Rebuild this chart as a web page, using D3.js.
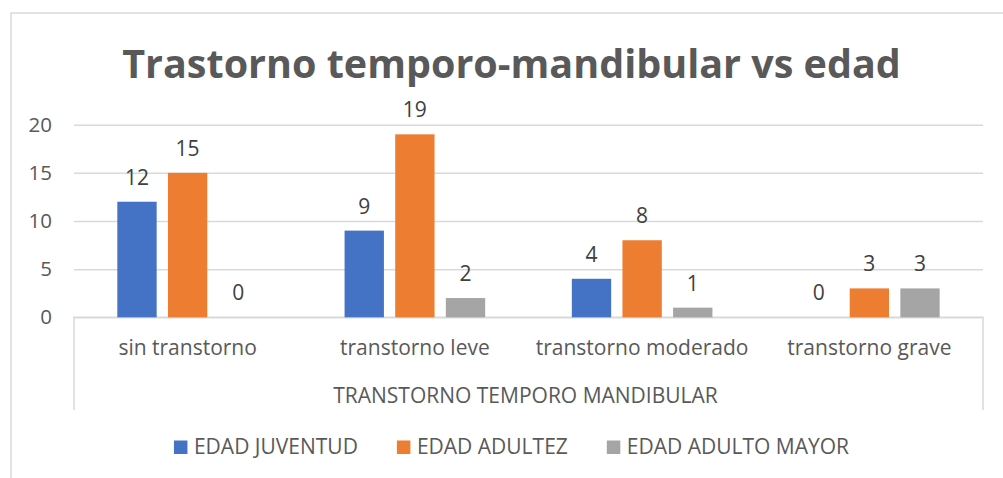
<!DOCTYPE html>
<html>
<head>
<meta charset="utf-8">
<script src="https://cdn.jsdelivr.net/npm/d3@7"></script>
<style>
  body { margin: 0; background: #fff; }
  svg text { font-family: "Open Sans", sans-serif; fill: #595959; }
</style>
</head>
<body>
<svg id="chart" width="1003" height="478"></svg>
<script>
// data
const categories = ['sin transtorno', 'transtorno leve', 'transtorno moderado', 'transtorno grave'];
const seriesNames = ['EDAD JUVENTUD', 'EDAD ADULTEZ', 'EDAD ADULTO MAYOR'];
const juventud = [12, 9, 4, 0];
const adultez = [15, 19, 8, 3];
const adultoMayor = [0, 2, 1, 3];
const yTicks = [0, 5, 10, 15, 20];
const colors = ['#4472C4', '#ED7D31', '#A5A5A5'];

const titleText = 'Trastorno temporo-mandibular vs edad';
const axisTitle = 'TRANSTORNO TEMPORO MANDIBULAR';

const values = [juventud, adultez, adultoMayor];

const svg = d3.select('#chart');

// plot area
const plotLeft = 74, plotRight = 983, plotTop = 124.7, plotBottom = 317.3;
const centerX = 511.5;

// outer chart border
svg.append('path')
  .attr('d', 'M11,1000 L11,13 L1003,13')
  .attr('fill', 'none')
  .attr('stroke', '#d9d9d9')
  .attr('stroke-width', 1.5);

// title
svg.append('text')
  .attr('x', centerX)
  .attr('y', 78)
  .attr('text-anchor', 'middle')
  .style('font-size', '39.5px')
  .style('font-weight', 'bold')
  .text(titleText);

// scales
var y = d3.scaleLinear().domain([0, 20]).range([plotBottom, plotTop]);
var x = d3.scaleBand().domain(categories).range([plotLeft, plotRight]);
var xs = d3.scaleBand().domain(d3.range(seriesNames.length))
  .range([-70.3, 70.3]).paddingInner(0.223);

// y axis + gridlines
var yAxis = svg.append('g')
  .attr('transform', `translate(${plotLeft},0)`)
  .call(d3.axisLeft(y).tickValues(yTicks).tickSize(-(plotRight - plotLeft)).tickPadding(22));
yAxis.select('.domain').remove();
yAxis.selectAll('line').attr('stroke', '#d9d9d9').attr('stroke-width', 1.5);
yAxis.selectAll('text').style('font-size', '20.5px').attr('fill', '#595959');

// category axis box
svg.append('path')
  .attr('d', `M${plotLeft},410 L${plotLeft},${plotBottom} L${plotRight},${plotBottom} L${plotRight},410`)
  .attr('fill', 'none')
  .attr('stroke', '#d9d9d9')
  .attr('stroke-width', 1.5);

var xAxis = svg.append('g')
  .attr('transform', `translate(0,${plotBottom})`)
  .call(d3.axisBottom(x).tickSize(0).tickPadding(23));
xAxis.select('.domain').remove();
xAxis.selectAll('text').style('font-size', '21px').attr('fill', '#595959');

svg.append('text')
  .attr('x', (plotLeft + plotRight) / 2 - 3)
  .attr('y', 402.5)
  .attr('text-anchor', 'middle')
  .style('font-size', '21px')
  .text(axisTitle);

// bars
var groups = svg.selectAll('.series')
  .data(values)
  .enter()
  .append('g')
  .attr('class', 'series')
  .attr('fill', (d, i) => colors[i]);

groups.selectAll('rect')
  .data((d, i) => d.map((v, j) => ({ v: v, s: i, c: categories[j] })))
  .enter()
  .append('rect')
  .attr('x', d => x(d.c) + x.bandwidth() / 2 + xs(d.s))
  .attr('y', d => y(d.v))
  .attr('width', xs.bandwidth())
  .attr('height', d => y(0) - y(d.v));

// data labels
groups.selectAll('text')
  .data((d, i) => d.map((v, j) => ({ v: v, s: i, c: categories[j] })))
  .enter()
  .append('text')
  .attr('x', d => x(d.c) + x.bandwidth() / 2 + xs(d.s) + xs.bandwidth() / 2)
  .attr('y', d => y(d.v) - 17)
  .attr('text-anchor', 'middle')
  .style('font-size', '21px')
  .style('fill', '#404040')
  .text(d => d.v);

// legend
var legend = svg.append('g');
var items = legend.selectAll('g')
  .data(seriesNames)
  .enter()
  .append('g');
items.append('rect')
  .attr('width', 13.5)
  .attr('height', 13.5)
  .attr('y', 440.5)
  .attr('fill', (d, i) => colors[i]);
items.append('text')
  .attr('x', 20)
  .attr('y', 454)
  .style('font-size', '21px')
  .text(d => d);

var pos = 0;
var offsets = [];
items.each(function () {
  offsets.push(pos);
  var w = d3.select(this).select('text').node().getComputedTextLength();
  pos += 20 + w + 39;
});
var total = pos - 39;
var start = centerX - total / 2;
items.attr('transform', (d, i) => `translate(${start + offsets[i]},0)`);
</script>
</body>
</html>
